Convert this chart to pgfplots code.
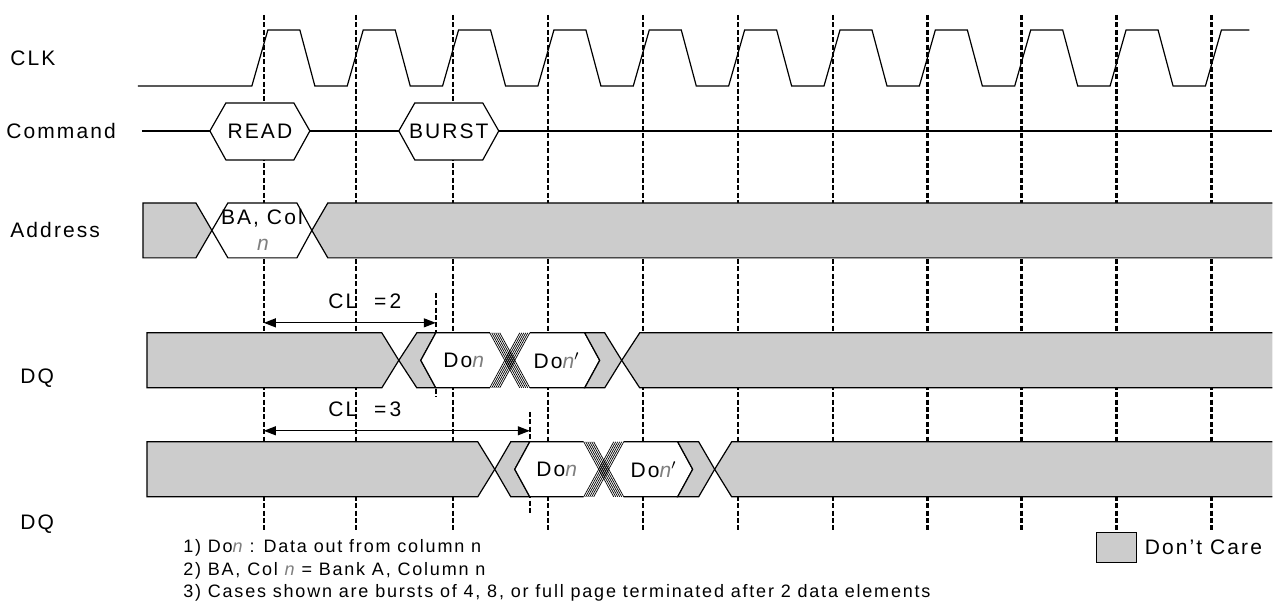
\documentclass[border=0pt]{standalone}
\usepackage{pgfplots}
\pgfplotsset{compat=1.18}
\usepackage{fontspec}
\setmainfont{Liberation Sans}[LetterSpace=10]
\usetikzlibrary{arrows.meta}
\definecolor{dc}{HTML}{CCCCCC}
\definecolor{ng}{HTML}{7F7F7F}
\newcommand{\nn}{{\itshape\color{ng}n}}
\begin{document}
\begin{tikzpicture}
\begin{axis}[width=636.5pt,height=302.5pt,scale only axis,
  xmin=0,xmax=1273,ymin=0,ymax=605,y dir=reverse,hide axis,clip=false]
% keep full frame in bounding box
\addplot[draw=none] coordinates {(0,0) (1273,605)};
% dashed clock reference lines
\pgfplotsinvokeforeach{264,356,453,548,643,738,833,928,1022,1117,1212}{
  \addplot[black,line width=1.1pt,dash pattern=on 2.5pt off 1.2pt] coordinates {(#1,15) (#1,532)};
}
\addplot[black,line width=1.1pt,dash pattern=on 2.5pt off 1.2pt] coordinates {(436,293) (436,397)};
\addplot[black,line width=1.1pt,dash pattern=on 2.5pt off 1.2pt] coordinates {(530,412) (530,515)};
% CLK
\addplot[black,line width=0.6pt] coordinates {
(138,86) (252,86) (268,30) (300,30) (315,86)
(347.4,86) (363.4,30) (395.4,30) (410.4,86)
(442.8,86) (458.8,30) (490.8,30) (505.8,86)
(538.2,86) (554.2,30) (586.2,30) (601.2,86)
(633.6,86) (649.6,30) (681.6,30) (696.6,86)
(729,86) (745,30) (777,30) (792,86)
(824.4,86) (840.4,30) (872.4,30) (887.4,86)
(919.8,86) (935.8,30) (967.8,30) (982.8,86)
(1015.2,86) (1031.2,30) (1063.2,30) (1078.2,86)
(1110.6,86) (1126.6,30) (1158.6,30) (1173.6,86)
(1206,86) (1222,30) (1250,30)};
% Command
\addplot[black,line width=0.6pt] coordinates {(142,131) (1273,131)};
\addplot[fill=white,draw=black,line width=0.6pt] coordinates {(210,131) (226,103) (294,103) (310,131) (294,160) (226,160)} -- cycle;
\addplot[fill=white,draw=black,line width=0.6pt] coordinates {(399,131) (415,103) (483,103) (499,131) (483,160) (415,160)} -- cycle;
% Address
\addplot[fill=dc,draw=black,line width=0.6pt] coordinates {(143,203) (196,203) (212,230.5) (196,258) (143,258)} -- cycle;
\addplot[fill=white,draw=black,line width=0.6pt] coordinates {(212,230.5) (228,203) (297,203) (312,230.5) (297,258) (228,258)} -- cycle;
\addplot[fill=dc,draw=black,line width=0.6pt] coordinates {(1273,203) (328,203) (312,230.5) (328,258) (1273,258)};
% DQ CL=2
\addplot[fill=dc,draw=black,line width=0.6pt] coordinates {(147,333) (382,333) (399,360.5) (382,388) (147,388)} -- cycle;
\addplot[fill=dc,draw=black,line width=0.6pt] coordinates {(399,360.5) (417,333) (436,333) (421,360.5) (436,388) (417,388)} -- cycle;
\addplot[fill=white,draw=black,line width=0.6pt] coordinates {(490,333) (436,333) (421,360.5) (436,388) (490,388)};
\addplot[fill=white,draw=black,line width=0.6pt] coordinates {(530,333) (585,333) (600,360.5) (585,388) (530,388)};
\pgfplotsinvokeforeach{0,2,4,6,8,10}{
  \addplot[black,line width=0.35pt] coordinates {(490+#1,333) (520+#1,388)};
  \addplot[black,line width=0.35pt] coordinates {(490+#1,388) (520+#1,333)};
}
\addplot[fill=dc,draw=black,line width=0.6pt] coordinates {(585,333) (605,333) (622,360.5) (605,388) (585,388) (600,360.5)} -- cycle;
\addplot[fill=dc,draw=black,line width=0.6pt] coordinates {(1273,333) (640,333) (622,360.5) (640,388) (1273,388)};
% DQ CL=3
\addplot[fill=dc,draw=black,line width=0.6pt] coordinates {(147,442) (478,442) (495,469.5) (478,497) (147,497)} -- cycle;
\addplot[fill=dc,draw=black,line width=0.6pt] coordinates {(495,469.5) (511,442) (530,442) (515,469.5) (530,497) (511,497)} -- cycle;
\addplot[fill=white,draw=black,line width=0.6pt] coordinates {(584,442) (530,442) (515,469.5) (530,497) (584,497)};
\addplot[fill=white,draw=black,line width=0.6pt] coordinates {(624,442) (678,442) (693,469.5) (678,497) (624,497)};
\pgfplotsinvokeforeach{0,2,4,6,8,10}{
  \addplot[black,line width=0.35pt] coordinates {(584+#1,442) (614+#1,497)};
  \addplot[black,line width=0.35pt] coordinates {(584+#1,497) (614+#1,442)};
}
\addplot[fill=dc,draw=black,line width=0.6pt] coordinates {(678,442) (699,442) (715,469.5) (699,497) (678,497) (693,469.5)} -- cycle;
\addplot[fill=dc,draw=black,line width=0.6pt] coordinates {(1273,442) (732,442) (715,469.5) (732,497) (1273,497)};
% CL arrows
\addplot[black,line width=0.6pt,{Triangle[length=6pt,width=4.5pt]}-{Triangle[length=6pt,width=4.5pt]}] coordinates {(264,323) (436,323)};
\addplot[black,line width=0.6pt,{Triangle[length=6pt,width=4.5pt]}-{Triangle[length=6pt,width=4.5pt]}] coordinates {(264,431) (530,431)};
% legend box
\addplot[fill=dc,draw=black,line width=0.6pt] coordinates {(1097,533) (1137,533) (1137,563) (1097,563)} -- cycle;
% texts
\begin{scope}[every node/.style={font=\fontsize{10.5}{12}\selectfont,inner sep=0pt}]
\node[anchor=west] at (axis cs:10,58) {CLK};
\node[anchor=west] at (axis cs:6,131) {Command};
\node[anchor=west] at (axis cs:10,230) {Address};
\node[anchor=west] at (axis cs:20,378) {DQ};
\node[anchor=west] at (axis cs:20,524) {DQ};
\node at (axis cs:260,131) {READ};
\node at (axis cs:449,131) {BURST};
\node at (axis cs:262,218) {BA, Col};
\node at (axis cs:263,245) {\nn};
\node at (axis cs:464,360.5) {Do\nn};
\node at (axis cs:557,360.5) {Do\nn$'$};
\node at (axis cs:557,469.5) {Do\nn};
\node at (axis cs:654,469.5) {Do\nn$'$};
\node at (axis cs:365,301) {CL\hspace{0.8em}=\hspace{0.15em}2};
\node at (axis cs:365,409) {CL\hspace{0.8em}=\hspace{0.15em}3};
\node[anchor=west] at (axis cs:1145,548) {Don't Care};
\end{scope}
\begin{scope}[every node/.style={font=\fontsize{9}{11}\selectfont,inner sep=0pt,anchor=west}]
\node at (axis cs:183,548) {1) Do\nn\ : Data out from column n};
\node at (axis cs:183,571) {2) BA, Col \nn\ = Bank A, Column n};
\node at (axis cs:183,593) {3) Cases shown are bursts of 4, 8, or full page terminated after 2 data elements};
\end{scope}
\end{axis}
\end{tikzpicture}
\end{document}
